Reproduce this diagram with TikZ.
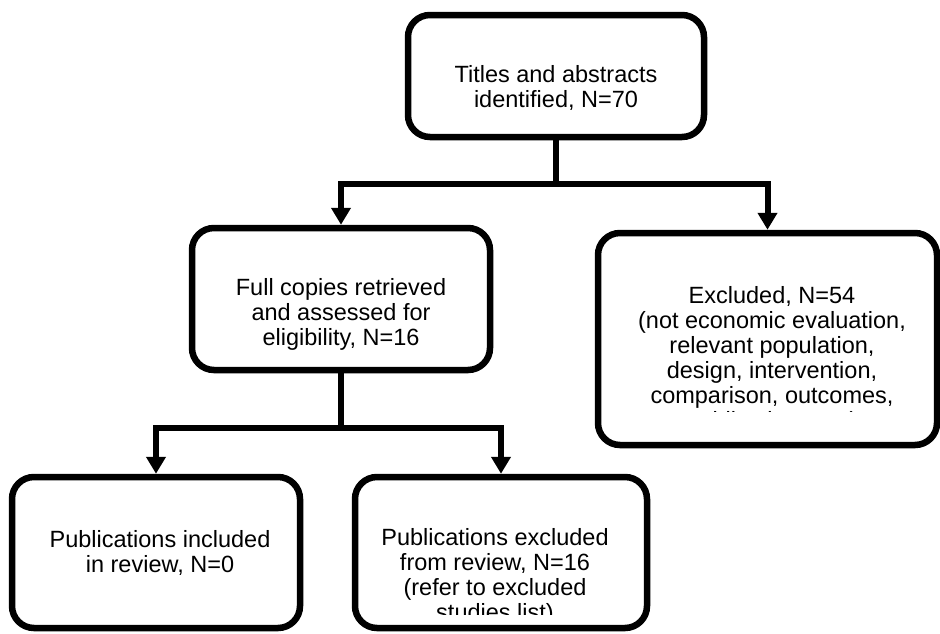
\documentclass[tikz,border=0pt]{standalone}
\usepackage{fontspec}
\setmainfont{Liberation Sans}
\usetikzlibrary{arrows.meta}
\begin{document}
\begin{tikzpicture}[x=1pt,y=-1pt,
  box/.style={draw, line width=6.5pt, rounded corners=22pt, inner sep=0pt, fill=white},
  conn/.style={line width=6pt},
  arr/.style={conn, -{Triangle[width=19pt,length=17pt]}},
  lbl/.style={align=center, inner sep=0pt, font=\fontsize{23.5}{25}\selectfont}]
\useasboundingbox (0,0) rectangle (940,633);
% boxes
\node[box, minimum width=296pt, minimum height=122pt] (top) at (556,76) {};
\node[box, minimum width=298pt, minimum height=142pt] (mid) at (341,299) {};
\node[box, minimum width=339pt, minimum height=212pt] (exc) at (767.5,339) {};
\node[box, minimum width=288pt, minimum height=151pt] (inc) at (156,552.5) {};
\node[box, minimum width=292pt, minimum height=151pt] (pex) at (501,552.5) {};
% connectors
\coordinate (j1) at (556,184);
\coordinate (j2) at (341,428);
\draw[conn] (top.south) -- (j1);
\draw[arr] (j1) -| (mid.north);
\draw[arr] (j1) -| (exc.north);
\draw[conn] (mid.south) -- (j2);
\draw[arr] (j2) -| (inc.north);
\draw[arr] (j2) -| (pex.north);
% texts
\node[lbl] (t1) at (556,88) {Titles and abstracts\\identified, N=70};
\begin{scope}
\clip (192,228) rectangle (490,350);
\node[lbl] (t2) at (341,314) {Full copies retrieved\\and assessed for\\eligibility, N=16};
\end{scope}
\begin{scope}
\clip (598,233) rectangle (937,411);
\node[lbl] (t3) at (772,360) {Excluded, N=54\\(not economic evaluation,\\relevant population,\\design, intervention,\\comparison, outcomes,\\publication type)};
\end{scope}
\node[lbl] (t4) at (160,553) {Publications included\\in review, N=0};
\begin{scope}
\clip (355,477) rectangle (647,614);
\node[lbl] (t5) at (495,577) {Publications excluded\\from review, N=16\\(refer to excluded\\studies list)};
\end{scope}
\end{tikzpicture}
\end{document}
